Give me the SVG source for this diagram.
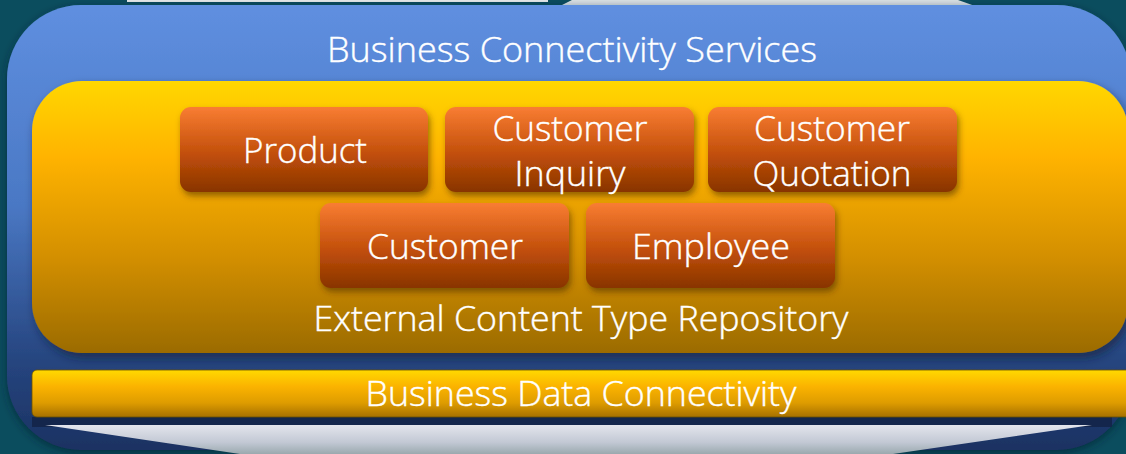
<svg xmlns="http://www.w3.org/2000/svg" width="1126" height="454" viewBox="0 0 1126 454">
<defs>
<linearGradient id="gBlue" x1="0" y1="0" x2="0" y2="1">
<stop offset="0" stop-color="#5f8fe0"/>
<stop offset="0.45" stop-color="#4a78c4"/>
<stop offset="0.8" stop-color="#26457f"/>
<stop offset="1" stop-color="#1b3262"/>
</linearGradient>
<linearGradient id="gYellow" x1="0" y1="0" x2="0" y2="1">
<stop offset="0" stop-color="#ffd706"/>
<stop offset="0.28" stop-color="#ffb300"/>
<stop offset="0.65" stop-color="#d38f00"/>
<stop offset="1" stop-color="#9b6b00"/>
</linearGradient>
<linearGradient id="gBar" x1="0" y1="0" x2="0" y2="1">
<stop offset="0" stop-color="#ffd900"/>
<stop offset="0.35" stop-color="#fbb300"/>
<stop offset="0.7" stop-color="#de9c00"/>
<stop offset="1" stop-color="#a67000"/>
</linearGradient>
<linearGradient id="gOrange" x1="0" y1="0" x2="0" y2="1">
<stop offset="0" stop-color="#f97d33"/>
<stop offset="0.55" stop-color="#c24f0a"/>
<stop offset="1" stop-color="#883400"/>
</linearGradient>
<linearGradient id="gGrey" x1="0" y1="0" x2="0" y2="1">
<stop offset="0" stop-color="#e3e5ec"/>
<stop offset="0.6" stop-color="#c2c8d4"/>
<stop offset="1" stop-color="#9aa9ae"/>
</linearGradient>
<filter id="shBox" x="-10%" y="-10%" width="125%" height="135%">
<feDropShadow dx="2" dy="4" stdDeviation="3" flood-color="#4a2a00" flood-opacity="0.55"/>
</filter>
<filter id="shBig" x="-5%" y="-5%" width="110%" height="115%">
<feDropShadow dx="3" dy="5" stdDeviation="5" flood-color="#0a1a30" flood-opacity="0.6"/>
</filter>
<filter id="shOuter" x="-5%" y="-5%" width="110%" height="115%">
<feDropShadow dx="0" dy="3" stdDeviation="4" flood-color="#002030" flood-opacity="0.7"/>
</filter>
</defs>
<style>
.lbl{font-family:"Open Sans","Noto Sans","Liberation Sans",sans-serif;font-size:34px;font-weight:300;fill:#ffffff;text-anchor:middle;stroke:#ffffff;stroke-width:0.4}
.box{fill:url(#gOrange);filter:url(#shBox)}
</style>
<rect x="0" y="0" width="1126" height="454" fill="#0b4d5e"/>
<rect x="127" y="0" width="421" height="2" fill="#e4e8ea"/>
<polygon points="572,0 958,0 975,6 560,6" fill="#d8e0e3"/>
<g id="outer">
<rect x="7" y="5" width="1124" height="445" rx="74" ry="74" fill="url(#gBlue)" filter="url(#shOuter)"/>
<text class="lbl" x="572" y="62" textLength="490" lengthAdjust="spacingAndGlyphs">Business Connectivity Services</text>
</g>
<g id="repository">
<rect x="32" y="81" width="1096" height="272" rx="50" ry="50" fill="url(#gYellow)" filter="url(#shBig)"/>
<text class="lbl" x="581" y="331" textLength="535" lengthAdjust="spacingAndGlyphs">External Content Type Repository</text>
</g>
<g id="base">
<rect x="32" y="417" width="1080" height="10" fill="#14264c"/>
<polygon points="45,425 1092,425 893,454 240,454" fill="url(#gGrey)"/>
<rect x="32" y="370" width="1100" height="47" rx="5" ry="5" fill="url(#gBar)" stroke="#6a5200" stroke-width="0.8"/>
<text class="lbl" x="581" y="406" textLength="431" lengthAdjust="spacingAndGlyphs">Business Data Connectivity</text>
</g>
<g id="product">
<rect class="box" x="180" y="107" width="248" height="85" rx="11" ry="11"/>
<text class="lbl" x="305" y="163" textLength="124" lengthAdjust="spacingAndGlyphs">Product</text>
</g>
<g id="customer-inquiry">
<rect class="box" x="445" y="107" width="249" height="85" rx="11" ry="11"/>
<text class="lbl" x="570" y="141" textLength="155" lengthAdjust="spacingAndGlyphs">Customer</text>
<text class="lbl" x="570" y="186" textLength="111" lengthAdjust="spacingAndGlyphs">Inquiry</text>
</g>
<g id="customer-quotation">
<rect class="box" x="708" y="107" width="249" height="85" rx="11" ry="11"/>
<text class="lbl" x="832" y="141" textLength="156" lengthAdjust="spacingAndGlyphs">Customer</text>
<text class="lbl" x="832" y="186" textLength="159" lengthAdjust="spacingAndGlyphs">Quotation</text>
</g>
<g id="customer">
<rect class="box" x="320" y="203" width="249" height="85" rx="11" ry="11"/>
<text class="lbl" x="445" y="259" textLength="156" lengthAdjust="spacingAndGlyphs">Customer</text>
</g>
<g id="employee">
<rect class="box" x="586" y="203" width="249" height="85" rx="11" ry="11"/>
<text class="lbl" x="711" y="259" textLength="158" lengthAdjust="spacingAndGlyphs">Employee</text>
</g>
<g id="connectors"/>
</svg>
